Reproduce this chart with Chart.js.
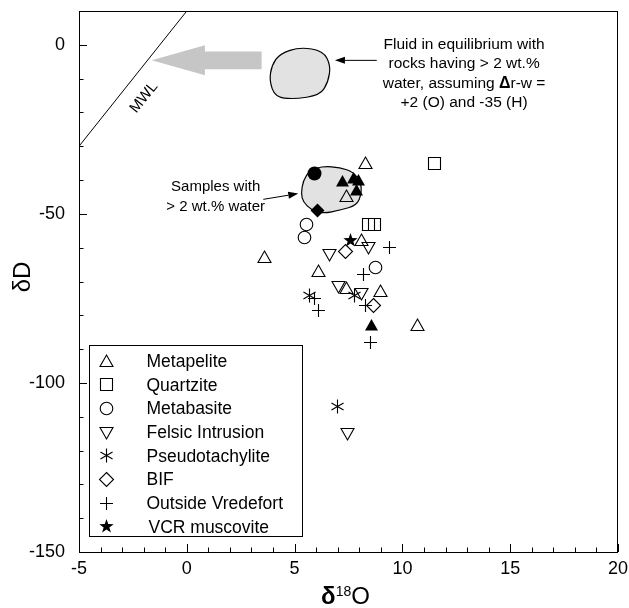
<!DOCTYPE html>
<html>
<head>
<meta charset="utf-8">
<script src="https://cdn.jsdelivr.net/npm/chart.js@4.4.1/dist/chart.umd.min.js"></script>
<style>
  body { margin: 0; background: #fff; }
  #wrap { width: 629px; height: 608px; }
</style>
</head>
<body>
<div id="wrap"><canvas id="isoChart"></canvas></div>
<script>
const FONT = "'Liberation Sans', Arial, Helvetica, sans-serif";

// axis ticks
const xTicks = [-5, 0, 5, 10, 15, 20];
const yTicks = [-150, -100, -50, 0];

// legend entries
const categories = ["Metapelite", "Quartzite", "Metabasite", "Felsic Intrusion",
  "Pseudotachylite", "BIF", "Outside Vredefort", "VCR muscovite"];

// [d18O, dD]
const metapelite = [[8.3, -35], [7.4, -45], [8.1, -58], [3.6, -63], [6.1, -67], [7.4, -72], [9.0, -73], [10.7, -83]];
const metapeliteFilled = [[7.2, -40.5], [7.75, -39.5], [7.95, -40], [7.85, -43], [8.55, -83]];
const quartzite = [[11.5, -35], [8.45, -53], [8.7, -53]];
const metabasite = [[5.55, -53], [5.45, -57], [8.75, -66]];
const metabasiteFilled = [[5.9, -38]];
const felsic = [[8.45, -60], [6.6, -62], [7.05, -71.5], [8.1, -73.5], [7.45, -115]];
const pseudotachylite = [[5.7, -74], [7.8, -74], [7.0, -107]];
const bif = [[7.35, -61], [8.65, -77]];
const bifFilled = [[6.05, -49]];
const outsideVredefort = [[9.4, -60], [8.2, -68], [5.9, -75], [6.1, -78.5], [8.3, -77], [8.5, -88]];
const vcrMuscovite = [[7.6, -57.8]];

// outlines of the two shaded fields (d18O, dD)
const fluidField = [[4.32, -2.6], [5.25, -0.65], [6.33, -1.83], [6.67, -6.06], [6.56, -11.0], [6.18, -14.9],
  [4.94, -16.1], [4.09, -15.4], [3.83, -10.5], [3.94, -6.06]];
const wetField = [[5.4, -40.1], [5.71, -37.1], [6.33, -35.9], [7.11, -36.3], [7.72, -37.6], [8.07, -40.6],
  [8.11, -44.0], [7.88, -47.5], [7.11, -48.9], [6.33, -49.9], [5.79, -48.9], [5.4, -46.5], [5.3, -44.0]];

function marker(shape, filled) {
  const s = 19, c = 9.5;
  const cv = document.createElement("canvas");
  cv.width = s; cv.height = s;
  const g = cv.getContext("2d");
  g.strokeStyle = "#000";
  g.fillStyle = "#000";
  g.lineWidth = 1.1;
  g.beginPath();
  if (shape === "up") {
    g.moveTo(c, c - 6.5); g.lineTo(c + 6.5, c + 5); g.lineTo(c - 6.5, c + 5); g.closePath();
  } else if (shape === "down") {
    g.moveTo(c, c + 6.5); g.lineTo(c + 6.5, c - 5); g.lineTo(c - 6.5, c - 5); g.closePath();
  } else if (shape === "square") {
    g.rect(c - 6, c - 6, 12, 12);
  } else if (shape === "circle") {
    g.arc(c, c, filled ? 7 : 6.3, 0, Math.PI * 2);
  } else if (shape === "diamond") {
    g.moveTo(c, c - 7); g.lineTo(c + 7, c); g.lineTo(c, c + 7); g.lineTo(c - 7, c); g.closePath();
  } else if (shape === "plus") {
    g.moveTo(c - 6.5, c); g.lineTo(c + 6.5, c); g.moveTo(c, c - 6.5); g.lineTo(c, c + 6.5);
  } else if (shape === "asterisk") {
    [90, 30, 150].forEach((a) => {
      const r = 7, t = a * Math.PI / 180;
      g.moveTo(c - r * Math.cos(t), c - r * Math.sin(t));
      g.lineTo(c + r * Math.cos(t), c + r * Math.sin(t));
    });
  } else if (shape === "star") {
    for (let i = 0; i < 10; i++) {
      const r = i % 2 ? 3 : 7.5;
      const t = -Math.PI / 2 + i * Math.PI / 5;
      i ? g.lineTo(c + r * Math.cos(t), c + r * Math.sin(t)) : g.moveTo(c + r * Math.cos(t), c + r * Math.sin(t));
    }
    g.closePath();
  }
  if (filled) g.fill(); else g.stroke();
  return cv;
}

const series = [
  [metapelite, marker("up", false)],
  [metapeliteFilled, marker("up", true)],
  [quartzite, marker("square", false)],
  [metabasite, marker("circle", false)],
  [metabasiteFilled, marker("circle", true)],
  [felsic, marker("down", false)],
  [pseudotachylite, marker("asterisk", false)],
  [bif, marker("diamond", false)],
  [bifFilled, marker("diamond", true)],
  [outsideVredefort, marker("plus", false)],
  [vcrMuscovite, marker("star", true)],
];
const legendMarkers = [marker("up"), marker("square"), marker("circle"), marker("down"),
  marker("asterisk"), marker("diamond"), marker("plus"), marker("star", true)];

function smoothPath(ctx, pts) {
  const n = pts.length;
  const mid = (a, b) => [(a[0] + b[0]) / 2, (a[1] + b[1]) / 2];
  let m = mid(pts[n - 1], pts[0]);
  ctx.beginPath();
  ctx.moveTo(m[0], m[1]);
  for (let i = 0; i < n; i++) {
    const m2 = mid(pts[i], pts[(i + 1) % n]);
    ctx.quadraticCurveTo(pts[i][0], pts[i][1], m2[0], m2[1]);
  }
  ctx.closePath();
}

function arrow(ctx, x1, y1, x2, y2) {
  const a = Math.atan2(y2 - y1, x2 - x1), L = 10, W = 3.5;
  ctx.beginPath();
  ctx.moveTo(x1, y1);
  ctx.lineTo(x2 - L * Math.cos(a), y2 - L * Math.sin(a));
  ctx.stroke();
  ctx.beginPath();
  ctx.moveTo(x2, y2);
  ctx.lineTo(x2 - L * Math.cos(a) + W * Math.sin(a), y2 - L * Math.sin(a) - W * Math.cos(a));
  ctx.lineTo(x2 - L * Math.cos(a) - W * Math.sin(a), y2 - L * Math.sin(a) + W * Math.cos(a));
  ctx.closePath();
  ctx.fill();
}

function centredLine(ctx, parts, cx, y) {
  let w = 0;
  parts.forEach((p) => { ctx.font = p[1]; w += ctx.measureText(p[0]).width; });
  let x = cx - w / 2;
  ctx.textAlign = "left";
  parts.forEach((p) => { ctx.font = p[1]; ctx.fillText(p[0], x, y); x += ctx.measureText(p[0]).width; });
}

const underlay = {
  id: "underlay",
  beforeDatasetsDraw(chart) {
    const { ctx, chartArea: ca } = chart;
    const sx = chart.scales.x, sy = chart.scales.y;
    const px = (p) => [sx.getPixelForValue(p[0]), sy.getPixelForValue(p[1])];
    ctx.save();
    ctx.beginPath();
    ctx.rect(ca.left, ca.top, ca.right - ca.left, ca.bottom - ca.top);
    ctx.clip();

    // meteoric water line
    ctx.strokeStyle = "#000";
    ctx.lineWidth = 1;
    ctx.beginPath();
    ctx.moveTo(sx.getPixelForValue(-5), sy.getPixelForValue(8 * -5 + 10));
    ctx.lineTo(sx.getPixelForValue(0), sy.getPixelForValue(10));
    ctx.stroke();

    // gray shift arrow
    const tip = px([-1.63, -4.6]), base = sx.getPixelForValue(0.84), tail = sx.getPixelForValue(3.47);
    ctx.fillStyle = "#c6c6c6";
    ctx.beginPath();
    ctx.moveTo(tip[0], tip[1]);
    ctx.lineTo(base, tip[1] - 15);
    ctx.lineTo(base, tip[1] - 8.8);
    ctx.lineTo(tail, tip[1] - 8.8);
    ctx.lineTo(tail, tip[1] + 8.8);
    ctx.lineTo(base, tip[1] + 8.8);
    ctx.lineTo(base, tip[1] + 15);
    ctx.closePath();
    ctx.fill();

    // shaded fields
    [fluidField, wetField].forEach((f) => {
      smoothPath(ctx, f.map(px));
      ctx.fillStyle = "#e2e2e2";
      ctx.fill();
      ctx.strokeStyle = "#000";
      ctx.lineWidth = 1.2;
      ctx.stroke();
    });

    // MWL label
    const lab = px([-1.985, -15.6]);
    ctx.fillStyle = "#000";
    ctx.font = "15px " + FONT;
    ctx.translate(lab[0], lab[1]);
    ctx.rotate(-51.4 * Math.PI / 180);
    ctx.textAlign = "center";
    ctx.textBaseline = "middle";
    ctx.fillText("MWL", 0, 0);
    ctx.restore();
    ctx.imageSmoothingEnabled = false;
  },
};

const overlay = {
  id: "overlay",
  afterDatasetsDraw(chart) {
    const { ctx, chartArea: ca } = chart;
    const sx = chart.scales.x, sy = chart.scales.y;
    const px = (p) => [sx.getPixelForValue(p[0]), sy.getPixelForValue(p[1])];
    ctx.save();
    ctx.strokeStyle = "#000";
    ctx.fillStyle = "#000";
    ctx.lineWidth = 1;

    // frame
    ctx.strokeRect(ca.left + 0.5, ca.top + 0.5, ca.right - ca.left - 1, ca.bottom - ca.top);

    // inward ticks
    ctx.beginPath();
    for (let v = -5; v <= 20; v++) {
      const x = Math.round(sx.getPixelForValue(v)) + 0.5;
      ctx.moveTo(x, ca.bottom);
      ctx.lineTo(x, ca.bottom - (v % 5 === 0 ? 8 : 4.5));
    }
    for (let v = -150; v <= 10; v += 10) {
      const y = Math.round(sy.getPixelForValue(v)) + 0.5;
      ctx.moveTo(ca.left, y);
      ctx.lineTo(ca.left + (v % 50 === 0 ? 8 : 4.5), y);
    }
    ctx.stroke();

    // annotation texts and arrows
    ctx.textBaseline = "middle";
    const f15 = "15.5px " + FONT;
    const fa = px([12.86, 0]);
    centredLine(ctx, [["Fluid in equilibrium with", f15]], fa[0], fa[1]);
    centredLine(ctx, [["rocks having > 2 wt.%", f15]], fa[0], fa[1] + 19.3);
    centredLine(ctx, [["water, assuming ", f15], ["\u0394", "bold 16px " + FONT], ["r-w =", f15]], fa[0], fa[1] + 38.6);
    centredLine(ctx, [["+2 (O) and -35 (H)", f15]], fa[0], fa[1] + 57.9);
    const a1 = px([8.81, -4.6]), a2 = px([6.87, -4.6]);
    arrow(ctx, a1[0], a1[1], a2[0], a2[1]);

    const sa = px([1.34, -42.1]);
    centredLine(ctx, [["Samples with", "15px " + FONT]], sa[0], sa[1]);
    centredLine(ctx, [["> 2 wt.% water", "15px " + FONT]], sa[0], sa[1] + 20);
    const b1 = px([3.55, -45.7]), b2 = px([5.17, -44.0]);
    arrow(ctx, b1[0], b1[1], b2[0], b2[1]);

    // legend box
    const lx = ca.left + 10.5, ly = ca.top + 334.5;
    ctx.fillStyle = "#fff";
    ctx.fillRect(lx, ly, 213, 191);
    ctx.strokeRect(lx, ly, 213, 191);
    ctx.fillStyle = "#000";
    ctx.font = "17.5px " + FONT;
    ctx.textAlign = "left";
    ctx.imageSmoothingEnabled = false;
    categories.forEach((name, i) => {
      const y = ly + 15.5 + i * 23.7;
      const m = legendMarkers[i];
      ctx.drawImage(m, Math.round(lx + 16.5 - m.width / 2), Math.round(y - m.height / 2));
      ctx.fillText(name, lx + 57 + (i === 7 ? 2 : 0), y + 1);
    });

    // axis titles
    ctx.textBaseline = "alphabetic";
    const cx = (ca.left + ca.right) / 2 - 3;
    const parts = [["\u03b4", "bold 24px " + FONT, 0], ["18", "14px " + FONT, -8], ["O", "24px " + FONT, 0]];
    let w = 0;
    parts.forEach((p) => { ctx.font = p[1]; w += ctx.measureText(p[0]).width; });
    let x = cx - w / 2;
    parts.forEach((p) => { ctx.font = p[1]; ctx.fillText(p[0], x, 604 + p[2]); x += ctx.measureText(p[0]).width; });

    ctx.translate(30, 277);
    ctx.rotate(-Math.PI / 2);
    ctx.textAlign = "center";
    ctx.font = "24px " + FONT;
    ctx.fillText("\u03b4D", 0, 0);
    ctx.restore();
  },
};

// drop the label overhang padding so the plot box sits exactly where the original is
const noPad = (s) => { s.paddingLeft = 0; s.paddingRight = 0; s.paddingTop = 0; s.paddingBottom = 0; };

new Chart(document.getElementById("isoChart"), {
  type: "scatter",
  data: {
    datasets: series.map(([pts, style]) => ({
      data: pts.map(([x, y]) => ({ x, y })),
      pointStyle: style,
      pointRadius: 7,
      pointHoverRadius: 7,
    })),
  },
  options: {
    responsive: true,
    maintainAspectRatio: false,
    animation: false,
    events: [],
    layout: { padding: { top: 11, right: 11, left: 0, bottom: 0 } },
    plugins: { legend: { display: false }, tooltip: { enabled: false } },
    scales: {
      x: {
        type: "linear",
        min: -5,
        max: 20,
        afterBuildTicks: (s) => { s.ticks = xTicks.map((value) => ({ value })); },
        afterFit: (s) => { s.height = 56; noPad(s); },
        grid: { display: false, drawTicks: false },
        border: { display: false },
        ticks: { color: "#000", padding: 6, font: { family: FONT, size: 18 } },
      },
      y: {
        type: "linear",
        min: -150,
        max: 10,
        afterBuildTicks: (s) => { s.ticks = yTicks.map((value) => ({ value })); },
        afterFit: (s) => { s.width = 79; noPad(s); },
        grid: { display: false, drawTicks: false },
        border: { display: false },
        ticks: { color: "#000", padding: 14, font: { family: FONT, size: 18 } },
      },
    },
  },
  plugins: [underlay, overlay],
});
</script>
</body>
</html>
